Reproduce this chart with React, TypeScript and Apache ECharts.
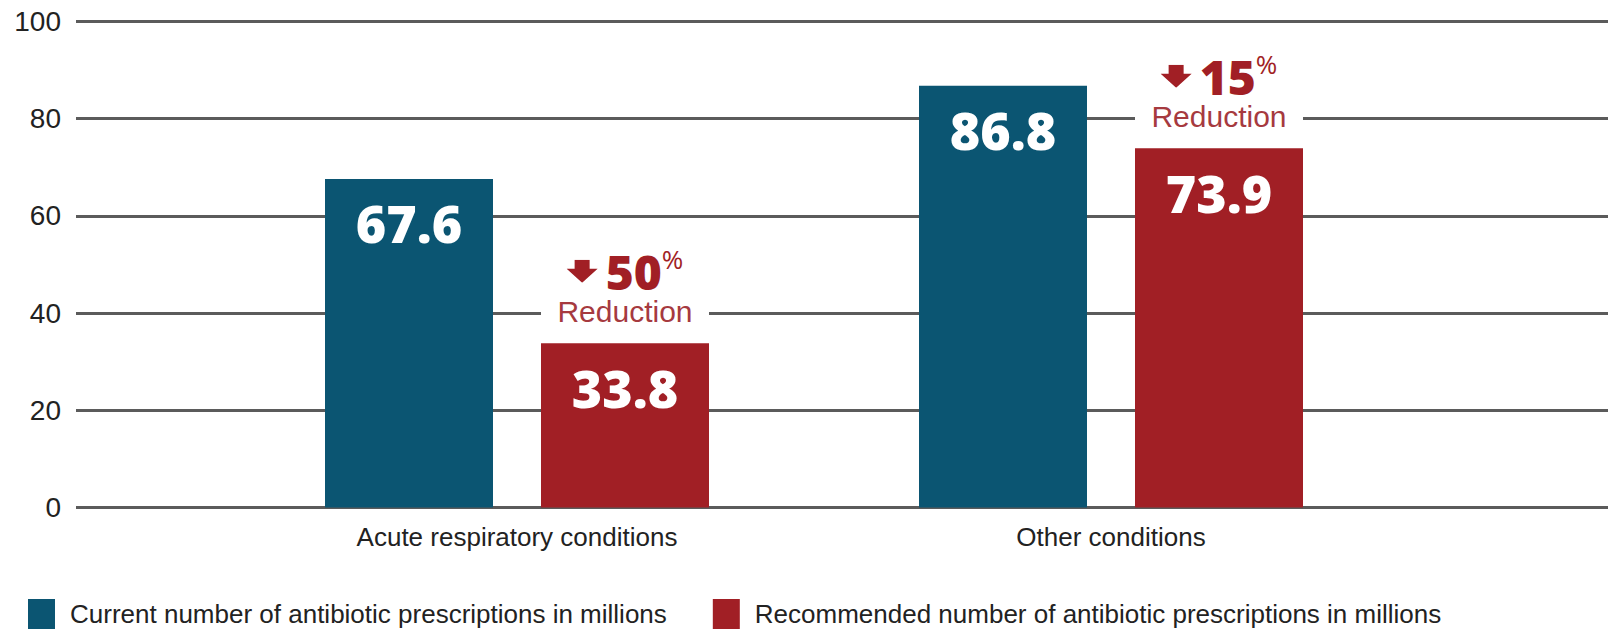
import React, { useEffect, useRef } from "react";
import * as echarts from "echarts";

const categories = ["Acute respiratory conditions", "Other conditions"];
const currentValues = [67.6, 86.8];
const recommendedValues = [33.8, 73.9];
const reductionPct = [50, 15];
const seriesNames = [
  "Current number of antibiotic prescriptions in millions",
  "Recommended number of antibiotic prescriptions in millions",
];

const BLUE = "#0b5572";
const RED = "#a11f25";
const GRID = "#5b5b5b";
const TEXT = "#222222";

const arrowSvg =
  '<svg xmlns="http://www.w3.org/2000/svg" width="39" height="23" viewBox="0 0 39 23">' +
  '<polygon points="8,0 23,0 23,9 31,9 15.5,23 0,9 8,9" fill="' +
  RED +
  '"/></svg>';
const arrowUrl = "data:image/svg+xml;utf8," + encodeURIComponent(arrowSvg);

export default function App() {
  const ref = useRef<HTMLDivElement>(null);
  useEffect(() => {
    if (!ref.current) return;
    const chart = echarts.init(ref.current, undefined, { renderer: "svg" });
    const valueLabel = {
      show: true,
      position: ["50%", 44] as any,
      align: "center",
      verticalAlign: "middle",
      color: "#ffffff",
      fontFamily: "Open Sans",
      fontWeight: 800,
      fontSize: 52,
      formatter: (p: any) => p.value.toFixed(1),
    };
    chart.setOption({
      animation: false,
      backgroundColor: "#ffffff",
      grid: [
        { left: 76, right: 0, top: 21.5, bottom: 123.5 },
        { left: 220, right: 200, top: 21.5, bottom: 123.5 },
      ],
      xAxis: [
        { gridIndex: 0, type: "value", show: false, min: 0, max: 1 },
        {
          gridIndex: 1,
          type: "category",
          data: categories,
          axisLine: { show: false },
          axisTick: { show: false },
          axisLabel: {
            color: TEXT,
            fontFamily: "Liberation Sans",
            fontSize: 26,
            margin: 16,
          },
        },
      ],
      yAxis: [
        {
          gridIndex: 0,
          type: "value",
          min: 0,
          max: 100,
          interval: 20,
          axisLine: { show: false },
          axisTick: { show: false },
          axisLabel: {
            color: TEXT,
            fontFamily: "Liberation Sans",
            fontSize: 28,
            margin: 15,
          },
          splitLine: { show: true, lineStyle: { color: GRID, width: 3 } },
        },
        { gridIndex: 1, type: "value", min: 0, max: 100, show: false },
      ],
      legend: {
        data: seriesNames,
        left: 28,
        top: 599,
        padding: 0,
        itemWidth: 27,
        itemHeight: 30,
        itemGap: 46,
        icon: "rect",
        textStyle: {
          color: TEXT,
          fontFamily: "Liberation Sans",
          fontSize: 26,
          padding: [0, 0, 0, 10],
        },
      },
      series: [
        {
          name: seriesNames[0],
          type: "bar",
          xAxisIndex: 1,
          yAxisIndex: 1,
          data: currentValues,
          barWidth: 168,
          barGap: "28.57%",
          itemStyle: { color: BLUE },
          label: valueLabel,
        },
        {
          name: seriesNames[1],
          type: "bar",
          xAxisIndex: 1,
          yAxisIndex: 1,
          data: recommendedValues,
          barWidth: 168,
          barGap: "28.57%",
          itemStyle: { color: RED },
          label: valueLabel,
          markPoint: {
            symbol: "rect",
            symbolSize: 0,
            data: categories.map((c, i) => ({
              coord: [c, recommendedValues[i]],
              value: reductionPct[i],
            })),
            label: {
              show: true,
              position: "top",
              distance: 17,
              align: "center",
              formatter: (p: any) =>
                `{arrow| }{pct|${p.value}}{sup|%}\n{red|Reduction}`,
              rich: {
                arrow: {
                  width: 39,
                  height: 23,
                  fontSize: 12,
                  verticalAlign: "middle",
                  backgroundColor: { image: arrowUrl },
                },
                pct: {
                  fontFamily: "Open Sans",
                  fontWeight: 800,
                  fontSize: 48,
                  lineHeight: 50,
                  color: RED,
                  verticalAlign: "middle",
                },
                sup: {
                  fontFamily: "Open Sans",
                  fontSize: 26,
                  lineHeight: 26,
                  color: RED,
                  verticalAlign: "top",
                },
                red: {
                  fontFamily: "Liberation Sans",
                  fontSize: 30,
                  lineHeight: 30,
                  height: 30,
                  width: 168,
                  align: "center",
                  color: "#a63a3f",
                  backgroundColor: "#ffffff",
                },
              },
            },
          },
        },
      ],
    });
    return () => chart.dispose();
  }, []);
  return (
    <div
      ref={ref}
      style={{ position: "absolute", left: 0, top: 0, width: 1608, height: 631 }}
    />
  );
}
